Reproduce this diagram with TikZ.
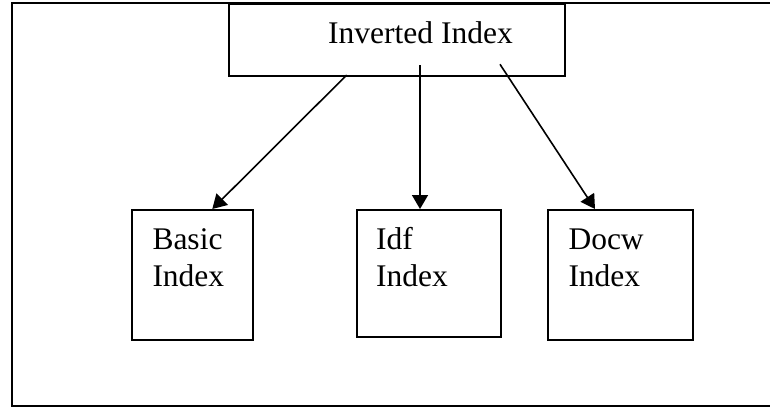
\documentclass[tikz,border=0pt]{standalone}
\usepackage{fontspec}
\setmainfont{Liberation Serif}
\usetikzlibrary{arrows.meta,calc}
\begin{document}
\begin{tikzpicture}[x=1pt,y=-1pt,
  boxstyle/.style={draw,line width=1.8pt,inner sep=0pt,anchor=north west},
  txt/.style={font=\fontsize{31.5}{36.7}\selectfont,inner sep=0pt,anchor=base west,align=left},
  arr/.style={line width=1.6pt,-{Triangle[length=14pt,width=16pt]}}]
\useasboundingbox (0,0) rectangle (770,408);
\begin{scope}
\clip (0,0) rectangle (770,408);
\draw[line width=1.9pt] (11.7,3) rectangle (790,405.6);
\end{scope}
\node[boxstyle,minimum width=336.5pt,minimum height=72pt] (top) at (227.7,3) {};
\node[txt] (toptxt) at (328,43) {Inverted Index};
\node[boxstyle,minimum width=120.7pt,minimum height=130.3pt] (basic) at (131,209) {};
\node[boxstyle,minimum width=144.3pt,minimum height=126.7pt] (idf) at (355.7,209) {};
\node[boxstyle,minimum width=144.4pt,minimum height=130.3pt] (docw) at (547.3,209) {};
\node[txt] (basictxt) at (152.3,286) {Basic\\Index};
\node[txt] (idftxt) at (376,286) {Idf\\Index};
\node[txt] (docwtxt) at (568.3,286) {Docw\\Index};
\coordinate (s1) at (346.7,75);
\coordinate (s2) at (420,65);
\coordinate (s3) at (500,64.3);
\coordinate (e1) at ($(basic.north west)+(81.3,0)$);
\coordinate (e2) at ($(idf.north west)+(64.3,0)$);
\coordinate (e3) at ($(docw.north west)+(47.7,0)$);
\draw[arr] (s1) -- (e1);
\draw[arr] (s2) -- (e2);
\draw[arr] (s3) -- (e3);
\end{tikzpicture}
\end{document}
